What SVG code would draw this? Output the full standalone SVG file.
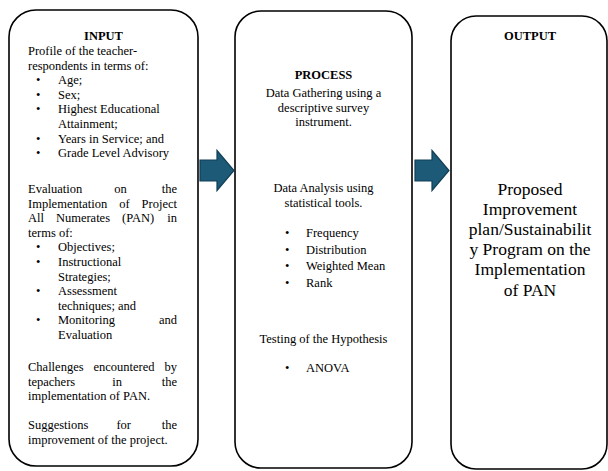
<svg xmlns="http://www.w3.org/2000/svg" width="608" height="471" viewBox="0 0 608 471" font-family="'Liberation Serif', 'Times New Roman', 'DejaVu Serif', serif">
<style>
.box{fill:#ffffff;stroke:#000000;stroke-width:1.6}
.t{font-family:'Liberation Serif','Times New Roman','DejaVu Serif',serif;font-size:12.5px;fill:#000000}
.b{font-weight:bold}
.m{text-anchor:middle}
.big{font-family:'Liberation Serif','Times New Roman','DejaVu Serif',serif;font-size:17.5px;fill:#000000;text-anchor:middle}
.arrow{fill:#1d5a78;stroke:#123f56;stroke-width:1.2}
</style>
<rect width="608" height="471" fill="#ffffff"/>
<g id="input">
<rect class="box" x="9" y="10" width="189" height="456" rx="27" ry="27"/>
<text class="t b m" x="103.5" y="40">INPUT</text>
<text class="t" x="28" y="55">Profile of the teacher-</text>
<text class="t" x="28" y="69.6">respondents in terms of:</text>
<text class="t" x="36" y="84.2">•</text><text class="t" x="58" y="84.2">Age;</text>
<text class="t" x="36" y="98.8">•</text><text class="t" x="58" y="98.8">Sex;</text>
<text class="t" x="36" y="113.4">•</text><text class="t" x="58" y="113.4">Highest Educational</text>
<text class="t" x="58" y="128">Attainment;</text>
<text class="t" x="36" y="142.6">•</text><text class="t" x="58" y="142.6">Years in Service; and</text>
<text class="t" x="36" y="157.2">•</text><text class="t" x="58" y="157.2">Grade Level Advisory</text>
<text class="t" y="193"><tspan x="28">Evaluation</tspan><tspan x="114.3">on</tspan><tspan x="177" text-anchor="end">the</tspan></text>
<text class="t" y="207.6"><tspan x="28">Implementation</tspan><tspan x="119.2">of</tspan><tspan x="177" text-anchor="end">Project</tspan></text>
<text class="t" y="222.2"><tspan x="28">All</tspan><tspan x="55.9">Numerates</tspan><tspan x="122">(PAN)</tspan><tspan x="177" text-anchor="end">in</tspan></text>
<text class="t" x="28" y="236.8">terms of:</text>
<text class="t" x="36" y="251.4">•</text><text class="t" x="58" y="251.4">Objectives;</text>
<text class="t" x="36" y="266">•</text><text class="t" x="58" y="266">Instructional</text>
<text class="t" x="58" y="280.6">Strategies;</text>
<text class="t" x="36" y="295.2">•</text><text class="t" x="58" y="295.2">Assessment</text>
<text class="t" x="58" y="309.8">techniques;  and</text>
<text class="t" x="36" y="324.4">•</text><text class="t" y="324.4"><tspan x="58">Monitoring</tspan><tspan x="177" text-anchor="end">and</tspan></text>
<text class="t" x="58" y="339">Evaluation</text>
<text class="t" y="371"><tspan x="28">Challenges</tspan><tspan x="93.5">encountered</tspan><tspan x="177" text-anchor="end">by</tspan></text>
<text class="t" y="385.6"><tspan x="28">tepachers</tspan><tspan x="112.2">in</tspan><tspan x="177" text-anchor="end">the</tspan></text>
<text class="t" x="28" y="400.2">implementation of PAN.</text>
<text class="t" y="429"><tspan x="28">Suggestions</tspan><tspan x="116.4">for</tspan><tspan x="177" text-anchor="end">the</tspan></text>
<text class="t" x="28" y="443.6">improvement of the project.</text>
</g>
<g id="process">
<rect class="box" x="235" y="11" width="177" height="457" rx="26" ry="26"/>
<text class="t b m" x="323.5" y="79">PROCESS</text>
<text class="t m" x="323.5" y="97">Data Gathering using a</text>
<text class="t m" x="323.5" y="111.6">descriptive survey</text>
<text class="t m" x="323.5" y="126.2">instrument.</text>
<text class="t m" x="323.5" y="192">Data Analysis using</text>
<text class="t m" x="323.5" y="206.6">statistical tools.</text>
<text class="t" x="285" y="237">•</text><text class="t" x="306" y="237">Frequency</text>
<text class="t" x="285" y="253.7">•</text><text class="t" x="306" y="253.7">Distribution</text>
<text class="t" x="285" y="270.4">•</text><text class="t" x="306" y="270.4">Weighted Mean</text>
<text class="t" x="285" y="287.1">•</text><text class="t" x="306" y="287.1">Rank</text>
<text class="t m" x="323.5" y="343">Testing of the Hypothesis</text>
<text class="t" x="285" y="372">•</text><text class="t" x="306" y="372">ANOVA</text>
</g>
<g id="output">
<rect class="box" x="451" y="16" width="156" height="453" rx="25" ry="25"/>
<text class="t b m" x="530" y="40">OUTPUT</text>
<text class="big" x="530" y="194.5">Proposed</text>
<text class="big" x="530" y="214.7">Improvement</text>
<text class="big" x="530" y="234.9">plan/Sustainabilit</text>
<text class="big" x="530" y="255.1">y Program on the</text>
<text class="big" x="530" y="275.3">Implementation</text>
<text class="big" x="530" y="295.5">of PAN</text>
</g>
<g id="connectors">
<path class="arrow" d="M200,160 H217 V150.5 L234,170.5 L217,190.5 V181 H200 Z"/>
<path class="arrow" d="M415,160 H432 V150.5 L449,170.5 L432,190.5 V181 H415 Z"/>
</g>
</svg>
